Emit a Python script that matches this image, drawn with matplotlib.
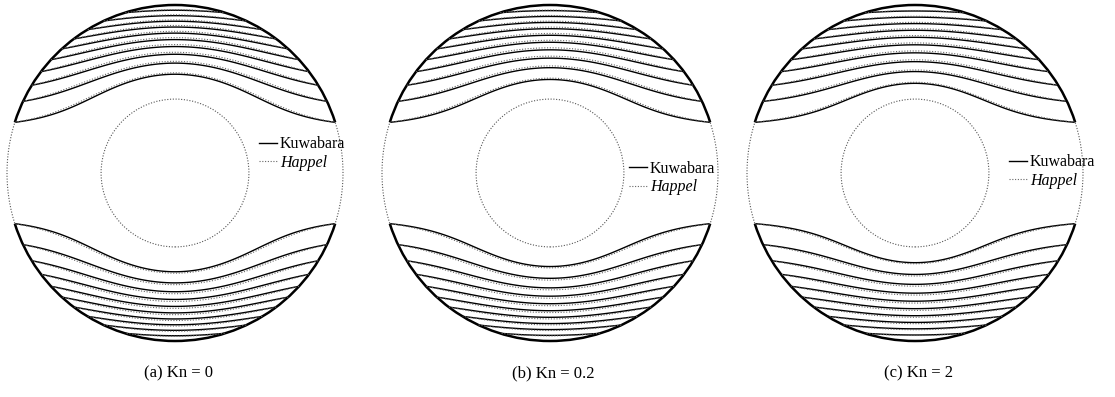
import numpy as np
import matplotlib.pyplot as plt
from matplotlib.patches import Arc, Circle
from matplotlib.lines import Line2D

plt.rcParams['font.family'] = ['Liberation Serif', 'DejaVu Serif']

# cell geometry (cell radius = 1)
SPHERE_RADIUS = 0.44
KNUDSEN = [0, 0.2, 2]
PANEL_LABELS = ["(a) Kn = 0", "(b) Kn = 0.2", "(c) Kn = 2"]
# streamline levels as fraction of psi on the cell boundary (k/11)
PSI_LEVELS = [1/11, 2/11, 3/11, 4/11, 5/11, 6/11, 7/11, 8/11, 9/11, 10/11]

# panel centres / radius in pixels, legend anchor in data units
CENTERS = [(175, 173), (550, 173), (915, 173)]
RADIUS_PX = 168
LEGEND_XY = [(0.50, 0.115), (0.47, -0.03), (0.56, 0.01)]

W, H = 1115, 397


def stream_coeffs(a, kn, model):
    """f(r) = A/r + B r + C r^2 + D r^4, psi = f(r) sin^2(theta)"""
    xi = kn * a
    fa = [1 / a, a, a**2, a**4]
    dfa = [-1 / a**2, 1, 2 * a, 4 * a**3]
    d2fa = [2 / a**3, 0, 2, 12 * a**2]
    slip = [dfa[i] - xi * (d2fa[i] - 2 * dfa[i] / a) for i in range(4)]
    if model == "kuwabara":
        outer = [0, -2, 0, 10]      # zero vorticity at r = 1
    else:
        outer = [6, 0, 0, 6]        # zero shear stress at r = 1
    M = np.array([fa, slip, [1, 1, 1, 1], outer], dtype=float)
    rhs = np.array([0, 0, 0.5, 0])
    return np.linalg.solve(M, rhs)


def psi_field(coef, x, y, a):
    r = np.hypot(x, y)
    f = coef[0] / r + coef[1] * r + coef[2] * r**2 + coef[3] * r**4
    psi = f * (y / r)**2
    return np.ma.masked_where((r > 1.0) | (r < a), psi)


fig = plt.figure(figsize=(W / 100, H / 100), dpi=100)

g = np.linspace(-1.0, 1.0, 801)
X, Y = np.meshgrid(g, g)
X = np.where(X == 0, 1e-9, X)
levels = [0.5 * p for p in PSI_LEVELS]
theta0 = np.degrees(np.arcsin(np.sqrt(PSI_LEVELS[0])))

dots = (0, (1, 1.5))
half = 1.02 * RADIUS_PX
for k, (cx, cy) in enumerate(CENTERS):
    ax = fig.add_axes([(cx - half) / W, (H - cy - half) / H, 2 * half / W, 2 * half / H])
    ax.set_xlim(-1.02, 1.02)
    ax.set_ylim(-1.02, 1.02)
    ax.set_aspect('equal')
    ax.axis('off')

    kc = stream_coeffs(SPHERE_RADIUS, KNUDSEN[k], "kuwabara")
    hc = stream_coeffs(SPHERE_RADIUS, KNUDSEN[k], "happel")
    ax.contour(X, Y, psi_field(kc, X, Y, SPHERE_RADIUS), levels=levels,
               colors='black', linewidths=1.0, linestyles='solid')
    ax.contour(X, Y, psi_field(hc, X, Y, SPHERE_RADIUS), levels=levels,
               colors='#666666', linewidths=0.8, linestyles=[dots])

    # cell boundary and sphere
    ax.add_patch(Circle((0, 0), 1.0, fill=False, ec='#555555', lw=0.8, ls=dots))
    ax.add_patch(Arc((0, 0), 2, 2, theta1=theta0, theta2=180 - theta0, color='black', lw=1.8))
    ax.add_patch(Arc((0, 0), 2, 2, theta1=180 + theta0, theta2=360 - theta0, color='black', lw=1.8))
    ax.add_patch(Circle((0, 0), SPHERE_RADIUS, fill=False, ec='#555555', lw=0.8, ls=dots))

    handles = [Line2D([], [], color='black', lw=1.0),
               Line2D([], [], color='#666666', lw=0.8, ls=dots)]
    leg = ax.legend(handles, ["Kuwabara", "Happel"], loc='center left',
                    bbox_to_anchor=LEGEND_XY[k], bbox_transform=ax.transData,
                    frameon=False, fontsize=11.5, handlelength=1.1,
                    handletextpad=0.2, labelspacing=0.15, borderpad=0, borderaxespad=0)
    leg.get_texts()[1].set_style('italic')

    ax.text(0.02, -1.19, PANEL_LABELS[k], ha='center', va='center', fontsize=12, clip_on=False)

fig.savefig("out.png", dpi=100)
